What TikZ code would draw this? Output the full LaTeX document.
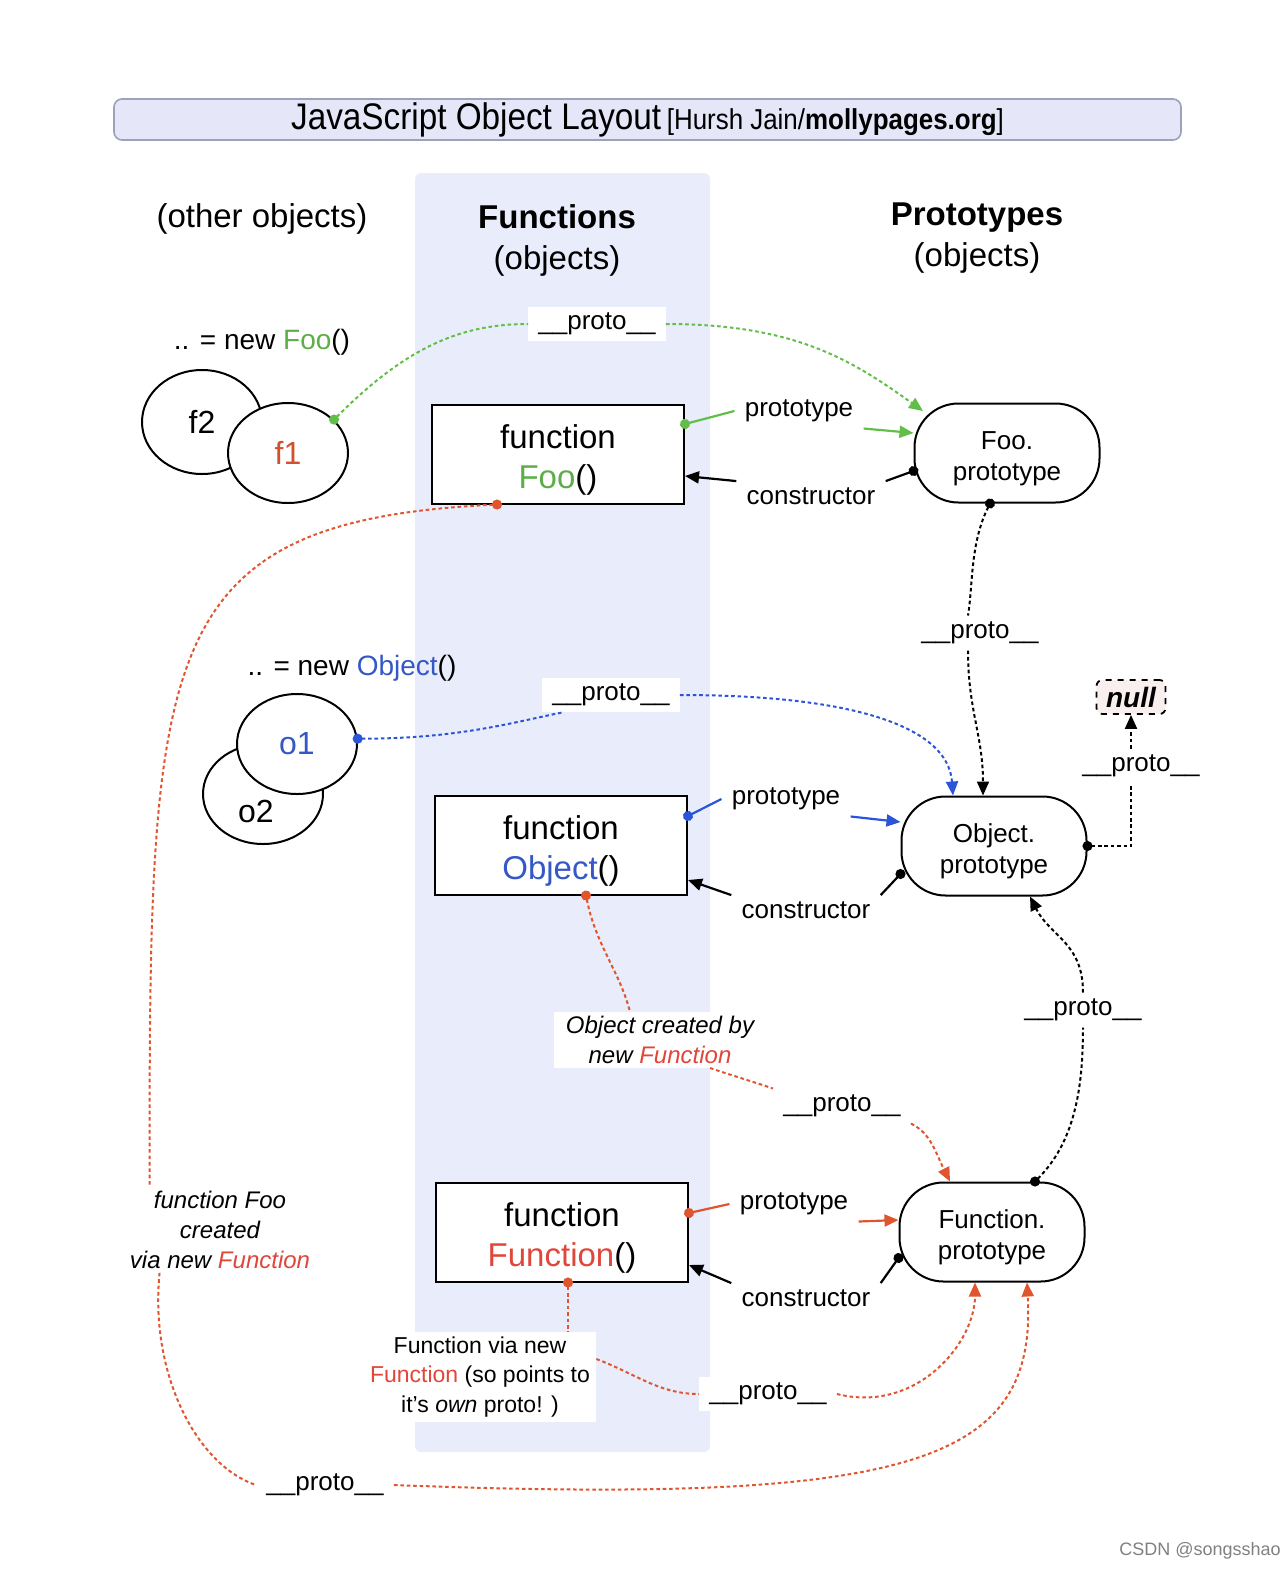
\documentclass[tikz,border=0pt]{standalone}
\usepackage{fontspec}
\setmainfont{Liberation Sans}
\newfontfamily\narrowfont[FakeStretch=0.9]{Liberation Sans}
\usetikzlibrary{arrows.meta,shapes.geometric}

\definecolor{bandblue}{HTML}{E9ECFB}
\definecolor{titlefill}{HTML}{E5E7F8}
\definecolor{titledraw}{HTML}{9EA1BA}
\definecolor{foogreen}{HTML}{5DAE48}
\definecolor{linkgreen}{HTML}{62BE48}
\definecolor{objblue}{HTML}{3558C6}
\definecolor{linkblue}{HTML}{2A55D8}
\definecolor{fnred}{HTML}{E0463A}
\definecolor{fonered}{HTML}{D2502E}
\definecolor{linkred}{HTML}{E0552E}
\definecolor{nullfill}{HTML}{F9EFEF}

\newcommand{\fnstrut}{\rule{0pt}{18pt}}
\newcommand{\protostrut}{\rule{0pt}{15pt}}

\begin{document}
\begin{tikzpicture}[x=0.5pt, y=-0.5pt,
        titlebar/.style={draw=titledraw, fill=titlefill, line width=0.8pt,
            rounded corners=4pt, minimum width=533.5pt, minimum height=20.5pt, inner sep=0pt},
        heading/.style={align=center, font=\fontsize{16.5}{20.5}\selectfont},
        newlbl/.style={font=\fontsize{14}{17}\selectfont},
        fnbox/.style={draw, fill=white, line width=1pt, align=center,
            minimum width=126pt, minimum height=49.5pt, font=\fontsize{16.5}{20}\selectfont},
        protobox/.style={draw, fill=white, line width=1pt, rounded corners=22pt, align=center,
            minimum width=92.5pt, minimum height=49.5pt, font=\fontsize{13}{15.5}\selectfont},
        objell/.style={ellipse, draw, fill=white, line width=1pt, inner sep=0pt,
            minimum width=60pt, minimum height=50pt, font=\fontsize{16}{19}\selectfont},
        nullbox/.style={draw, dashed, fill=nullfill, line width=0.9pt, rounded corners=3pt,
            minimum width=34.5pt, minimum height=17pt, inner sep=2pt,
            font=\fontsize{14}{16}\selectfont\bfseries\itshape},
        lbl/.style={fill=white, inner xsep=5pt, inner ysep=3pt, font=\fontsize{13}{15}\selectfont},
        note/.style={fill=white, align=center, inner xsep=6pt, inner ysep=2pt,
            font=\fontsize{12}{14.8}\selectfont\itshape},
        bignote/.style={fill=white, align=center, inner xsep=3pt, inner ysep=2.5pt,
            font=\fontsize{11.5}{14.7}\selectfont},
        link/.style={line width=1.1pt},
        protolink/.style={line width=1pt, dash pattern=on 1.8pt off 1.4pt},
        dotline/.style={{Circle[length=5pt]}-, shorten <=-2.5pt},
        tipline/.style={-{Triangle[length=7pt,width=6pt]}}]

    \useasboundingbox (0,0) rectangle (1280,1569);
    \fill[bandblue, rounded corners=3pt] (415,173) rectangle (710,1452);

    \node[titlebar] (title) at (647.5,119.5) {\raisebox{-2pt}{{\narrowfont\fontsize{18.5}{22}\selectfont JavaScript Object Layout}
        {\narrowfont\fontsize{14.4}{17}\selectfont [Hursh Jain/\textbf{mollypages.org}]}}};

    \node[heading] (othershead) at (262,219) {(other objects)};
    \node[heading] (fnhead) at (557,240) {\textbf{Functions}\\(objects)};
    \node[heading] (protohead) at (977,238) {\textbf{Prototypes}\\(objects)};

    \node[newlbl] (newfoo) at (262,342) {.. = new {\color{foogreen}Foo}()};
    \node[newlbl] (newobj) at (352,668) {.. = new {\color{objblue}Object}()};

    \node[objell, minimum height=52pt] (f2) at (202,422) {f2};
    \node[objell] (f1) at (288,453) {\color{fonered}f1};
    \node[objell] (o2) at (263,794) {};
    \node[objell] (o1) at (297,744) {\color{objblue}o1};
    \node[font=\fontsize{16}{19}\selectfont] (o2txt) at (256,811) {o2};

    \node[fnbox] (foofn) at (558,454) {\fnstrut function\\{\color{foogreen}Foo}()};
    \node[fnbox] (objfn) at (561,845) {\fnstrut function\\{\color{objblue}Object}()};
    \node[fnbox] (funcfn) at (562,1232) {\fnstrut function\\{\color{fnred}Function}()};

    \node[protobox] (fooproto) at (1007,453) {\protostrut Foo.\\prototype};
    \node[protobox] (objproto) at (994,846) {\protostrut Object.\\prototype};
    \node[protobox] (funcproto) at (992,1232) {\protostrut Function.\\prototype};
    \node[nullbox] (null) at (1131,697) {null};

    \node[lbl] (gpro) at (597,324) {\_\_proto\_\_};
    \node[lbl] (gpt) at (799,411) {prototype};
    \node[lbl] (gcon) at (811,496) {constructor};
    \node[lbl] (kpro1) at (980,633) {\_\_proto\_\_};
    \node[lbl] (bpro) at (611,695) {\_\_proto\_\_};
    \node[lbl] (bpt) at (786,799) {prototype};
    \node[lbl] (bcon) at (806,910) {constructor};
    \node[lbl] (npro) at (1141,766) {\_\_proto\_\_};
    \node[note] (ocr) at (660,1040) {Object created by\\new {\color{fnred}Function}};
    \node[lbl] (kpro2) at (1083,1010) {\_\_proto\_\_};
    \node[lbl] (rpro1) at (842,1106) {\_\_proto\_\_};
    \node[lbl] (rpt) at (794,1204) {prototype};
    \node[lbl] (rcon) at (806,1298) {constructor};
    \node[note, inner xsep=2pt] (ffoo) at (220,1230) {function Foo\\created\\via new {\color{fnred}Function}};
    \node[bignote] (fvn) at (480,1377) {Function via new\\{\color{fnred}Function} (so points to\\it's \textit{own} proto! )};
    \node[lbl] (rpro2) at (768,1394) {\_\_proto\_\_};
    \node[lbl] (rpro3) at (325,1485) {\_\_proto\_\_};

    \node[font=\fontsize{9}{11}\selectfont, text=gray] (mark) at (1200,1551) {CSDN @songsshao};

    \draw[link, linkgreen, dotline] ([yshift=15pt]foofn.east) -- (gpt.west);
    \draw[link, linkgreen, tipline] (gpt.south east) -- ([yshift=10pt]fooproto.west);
    \draw[link, dotline] ([yshift=-9pt]fooproto.west) -- (gcon.north east);
    \draw[link, tipline] (gcon.north west) -- ([yshift=-11pt]foofn.east);

    \draw[link, linkblue, dotline] ([yshift=14.5pt]objfn.east) -- (bpt.west);
    \draw[link, linkblue, tipline] (bpt.south east) -- ([yshift=12pt]objproto.west);
    \draw[link, dotline] ([yshift=-14pt]objproto.west) -- (bcon.north east);
    \draw[link, tipline] (bcon.north west) -- ([yshift=-17.5pt]objfn.east);

    \draw[link, linkred, dotline] ([yshift=9.5pt]funcfn.east) -- (rpt.west);
    \draw[link, linkred, tipline] (rpt.south east) -- ([yshift=6pt]funcproto.west);
    \draw[link, dotline] ([yshift=-13pt]funcproto.west) -- (rcon.north east);
    \draw[link, tipline] (rcon.north west) -- ([yshift=-16.5pt]funcfn.east);

    \draw[protolink, linkgreen, dotline] (f1.36) .. controls +(70,-70) and +(-70,0) .. (gpro.west);
    \draw[protolink, linkgreen, tipline] (gpro.east) .. controls +(130,0) and +(-70,-50) .. ([xshift=-42pt,yshift=21pt]fooproto.center);

    \draw[protolink, dotline] ([xshift=-8.5pt]fooproto.south) .. controls +(-20,40) and +(5,-30) .. ([xshift=-6pt]kpro1.north);
    \draw[protolink, tipline] ([xshift=-6pt]kpro1.south) .. controls +(0,60) and +(0,-60) .. ([xshift=-5.5pt]objproto.north);

    \draw[protolink, linkblue, dotline] (o1.5) .. controls +(100,0) and +(-50,10) .. ([xshift=10pt]bpro.south west);
    \draw[protolink, linkblue, tipline] (bpro.east) .. controls +(170,0) and +(-5,-70) .. ([xshift=-20.5pt]objproto.north);

    \draw[protolink, dotline] (objproto.east) -| ([xshift=-5pt]npro.south);
    \draw[protolink, tipline] ([xshift=-5pt]npro.north) -- (null.south);

    \draw[protolink, linkred, dotline] ([xshift=12.5pt]objfn.south) .. controls +(10,50) and +(-10,-40) .. ([xshift=-15pt]ocr.north);
    \draw[protolink, linkred] ([xshift=25pt]ocr.south) .. controls +(30,10) and +(-30,-10) .. (rpro1.north west);
    \draw[protolink, linkred, tipline] (rpro1.south east) .. controls +(20,10) and +(-15,-30) .. ([xshift=-21pt]funcproto.north);

    \draw[protolink, dotline] ([xshift=21.5pt]funcproto.north) .. controls +(40,-40) and +(0,60) .. (kpro2.south);
    \draw[protolink, tipline] (kpro2.north) .. controls +(0,-50) and +(20,40) .. ([xshift=18pt]objproto.south);

    \draw[protolink, linkred, dotline] ([xshift=3pt]funcfn.south) -- ([xshift=44pt]fvn.north);
    \draw[protolink, linkred] ([yshift=9pt]fvn.east) .. controls +(40,15) and +(-40,0) .. (rpro2.west);
    \draw[protolink, linkred, tipline] (rpro2.east) .. controls +(80,20) and +(0,60) .. ([xshift=-8.5pt]funcproto.south);

    \draw[protolink, linkred, dotline] ([xshift=-30.5pt]foofn.south) .. controls +(-347,17) and +(0,-534) .. ([xshift=12pt]ffoo.north west);
    \draw[protolink, linkred] ([xshift=17pt]ffoo.south west) .. controls +(-10,100) and +(-60,-20) .. (rpro3.west);
    \draw[protolink, linkred, tipline] (rpro3.east) .. controls +(520,20) and +(10,180) .. ([xshift=17.5pt]funcproto.south);
\end{tikzpicture}
\end{document}
